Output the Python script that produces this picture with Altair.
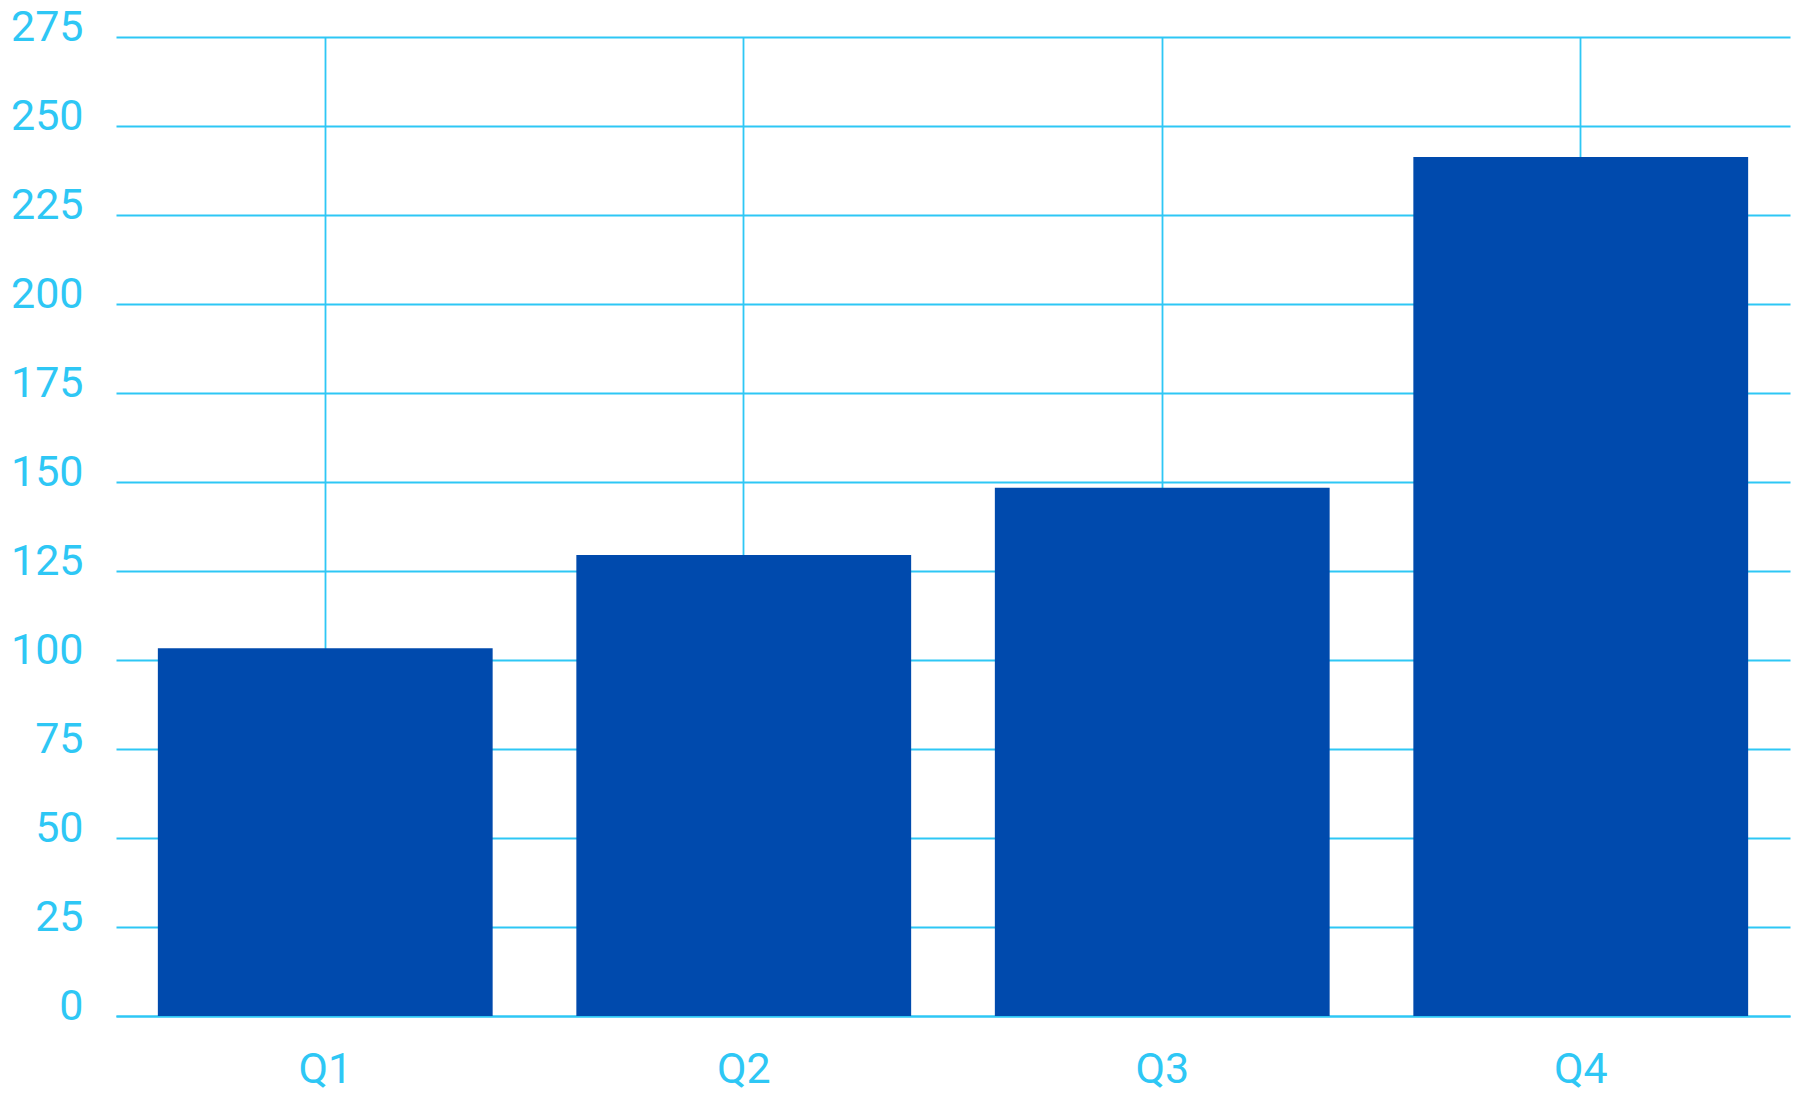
import altair as alt
import pandas as pd

quarters = ["Q1", "Q2", "Q3", "Q4"]
values = [103.3, 129.5, 148.4, 241.3]
y_ticks = [0, 25, 50, 75, 100, 125, 150, 175, 200, 225, 250, 275]

df = pd.DataFrame({"quarter": quarters, "value": values})

LIGHT = "#2ec7f5"
BAR = "#004aad"

chart = alt.Chart(df).mark_bar(color=BAR).encode(
    x=alt.X(
        "quarter:N",
        sort=quarters,
        title=None,
        scale=alt.Scale(paddingInner=0.2, paddingOuter=0.1),
        axis=alt.Axis(
            grid=True, bandPosition=0.5, gridColor=LIGHT, gridWidth=1.8,
            domain=True, domainColor=LIGHT, domainWidth=1.8,
            ticks=False, labelAngle=0, labelColor=LIGHT,
            labelFont="Roboto", labelFontSize=43, labelPadding=32,
            labelBaseline="top",
        ),
    ),
    y=alt.Y(
        "value:Q",
        title=None,
        scale=alt.Scale(domain=[0, 275], nice=False),
        axis=alt.Axis(
            values=y_ticks, grid=True, gridColor=LIGHT, gridWidth=1.8,
            domain=False, ticks=False, labelColor=LIGHT,
            labelFont="Roboto", labelFontSize=43, labelPadding=33,
            labelBaseline="alphabetic", labelOffset=3,
        ),
    ),
).properties(
    width=1674, height=979,
    autosize=alt.AutoSizeParams(type="none"),
    padding={"left": 108, "top": 29, "right": 12, "bottom": 80},
).configure_view(stroke=None)

chart.save("out.html", embed_options={"renderer": "svg", "actions": False})
